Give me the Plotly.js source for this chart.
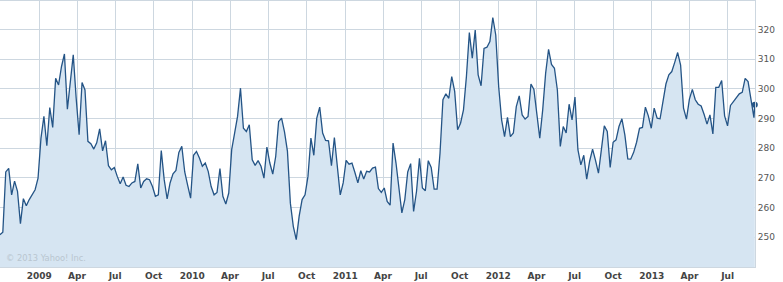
<!DOCTYPE html>
<html>
<head>
<meta charset="utf-8">
<script src="https://cdn.plot.ly/plotly-3.0.1.min.js"></script>
<style>html,body{margin:0;padding:0;background:#fff;}#chart{width:783px;height:282px;}</style>
</head>
<body>
<div id="chart"></div>
<script>
// Weekly closing values
var dates2008 = ['2008-09-29','2008-10-06','2008-10-13','2008-10-20','2008-10-27','2008-11-03','2008-11-10','2008-11-17','2008-11-24','2008-12-01','2008-12-08','2008-12-15','2008-12-22','2008-12-29'];
var close2008 = [250.9,251.7,272.0,273.2,264.3,268.9,265.5,254.6,263.0,260.6,262.7,264.3,266.0,269.9];

var dates2009 = ['2009-01-05','2009-01-12','2009-01-19','2009-01-26','2009-02-02','2009-02-09','2009-02-16','2009-02-23','2009-03-02','2009-03-09','2009-03-16','2009-03-23','2009-03-30','2009-04-06','2009-04-13','2009-04-20','2009-04-27','2009-05-04','2009-05-11','2009-05-18','2009-05-25','2009-06-01','2009-06-08','2009-06-15','2009-06-22','2009-06-29','2009-07-06','2009-07-13','2009-07-20','2009-07-27','2009-08-03','2009-08-10','2009-08-17','2009-08-24','2009-08-31','2009-09-07','2009-09-14','2009-09-21','2009-09-28','2009-10-05','2009-10-12','2009-10-19','2009-10-26','2009-11-02','2009-11-09','2009-11-16','2009-11-23','2009-11-30','2009-12-07','2009-12-14','2009-12-21','2009-12-28'];
var close2009 = [283.4,290.7,280.8,293.7,287.0,303.5,301.3,307.5,311.7,293.1,303.0,311.4,296.8,284.5,302.1,299.6,282.3,281.5,279.7,281.8,286.5,279.1,282.5,274.1,272.7,273.5,270.5,268.0,270.3,267.5,267.1,268.3,268.8,274.7,266.6,268.8,269.7,269.4,267.1,263.8,264.3,279.2,269.4,262.9,268.3,271.4,272.5,278.6,280.6,272.0,267.5,263.2];

var dates2010 = ['2010-01-04','2010-01-11','2010-01-18','2010-01-25','2010-02-01','2010-02-08','2010-02-15','2010-02-22','2010-03-01','2010-03-08','2010-03-15','2010-03-22','2010-03-29','2010-04-05','2010-04-12','2010-04-19','2010-04-26','2010-05-03','2010-05-10','2010-05-17','2010-05-24','2010-05-31','2010-06-07','2010-06-14','2010-06-21','2010-06-28','2010-07-05','2010-07-12','2010-07-19','2010-07-26','2010-08-02','2010-08-09','2010-08-16','2010-08-23','2010-08-30','2010-09-06','2010-09-13','2010-09-20','2010-09-27','2010-10-04','2010-10-11','2010-10-18','2010-10-25','2010-11-01','2010-11-08','2010-11-15','2010-11-22','2010-11-29','2010-12-06','2010-12-13','2010-12-20','2010-12-27'];
var close2010 = [277.6,278.9,276.7,273.9,275.0,272.2,267.1,264.3,265.1,273.1,263.8,261.2,264.9,279.5,285.1,290.7,300.2,286.7,285.6,287.9,276.1,274.2,275.8,273.9,269.9,280.4,275.0,271.3,277.2,289.0,290.1,285.5,279.0,261.5,253.7,249.2,257.1,262.7,264.3,270.5,283.4,277.6,290.1,293.8,285.1,282.6,282.5,274.1,283.6,272.7,264.3,268.3];

var dates2011 = ['2011-01-03','2011-01-10','2011-01-17','2011-01-24','2011-01-31','2011-02-07','2011-02-14','2011-02-21','2011-02-28','2011-03-07','2011-03-14','2011-03-21','2011-03-28','2011-04-04','2011-04-11','2011-04-18','2011-04-25','2011-05-02','2011-05-09','2011-05-16','2011-05-23','2011-05-30','2011-06-06','2011-06-13','2011-06-20','2011-06-27','2011-07-04','2011-07-11','2011-07-18','2011-07-25','2011-08-01','2011-08-08','2011-08-15','2011-08-22','2011-08-29','2011-09-05','2011-09-12','2011-09-19','2011-09-26','2011-10-03','2011-10-10','2011-10-17','2011-10-24','2011-10-31','2011-11-07','2011-11-14','2011-11-21','2011-11-28','2011-12-05','2011-12-12','2011-12-19','2011-12-26'];
var close2011 = [275.9,274.6,275.0,271.8,268.3,272.4,269.6,272.2,272.0,273.3,273.6,266.4,265.1,266.6,262.1,260.8,281.7,275.0,265.5,258.2,262.7,272.0,274.8,258.7,265.5,276.6,266.6,265.7,275.8,273.5,266.2,266.2,278.3,296.3,298.3,296.8,304.1,299.1,286.2,288.4,292.9,304.1,318.9,310.3,319.8,304.7,301.0,313.6,314.0,315.9,324.0,318.1];

var dates2012 = ['2012-01-02','2012-01-09','2012-01-16','2012-01-23','2012-01-30','2012-02-06','2012-02-13','2012-02-20','2012-02-27','2012-03-05','2012-03-12','2012-03-19','2012-03-26','2012-04-02','2012-04-09','2012-04-16','2012-04-23','2012-04-30','2012-05-07','2012-05-14','2012-05-21','2012-05-28','2012-06-04','2012-06-11','2012-06-18','2012-06-25','2012-07-02','2012-07-09','2012-07-16','2012-07-23','2012-07-30','2012-08-06','2012-08-13','2012-08-20','2012-08-27','2012-09-03','2012-09-10','2012-09-17','2012-09-24','2012-10-01','2012-10-08','2012-10-15','2012-10-22','2012-10-29','2012-11-05','2012-11-12','2012-11-19','2012-11-26','2012-12-03','2012-12-10','2012-12-17','2012-12-24','2012-12-31'];
var close2012 = [300.7,289.5,283.9,290.4,283.9,285.1,294.0,297.6,291.2,289.8,290.7,301.6,299.8,290.7,283.4,292.9,305.2,313.3,308.2,306.9,299.6,280.6,287.3,285.1,294.8,289.5,297.2,279.5,274.4,277.6,269.6,275.6,279.7,275.9,271.6,279.5,287.5,285.6,273.5,282.0,282.8,287.3,289.9,284.5,276.4,276.3,278.6,282.0,286.7,287.0,293.8,290.9,286.7];

var dates2013 = ['2013-01-07','2013-01-14','2013-01-21','2013-01-28','2013-02-04','2013-02-11','2013-02-18','2013-02-25','2013-03-04','2013-03-11','2013-03-18','2013-03-25','2013-04-01','2013-04-08','2013-04-15','2013-04-22','2013-04-29','2013-05-06','2013-05-13','2013-05-20','2013-05-27','2013-06-03','2013-06-10','2013-06-17','2013-06-24','2013-07-01','2013-07-08','2013-07-15','2013-07-22','2013-07-29','2013-08-05','2013-08-12','2013-08-19','2013-08-26','2013-09-02','2013-09-04'];
var close2013 = [293.5,290.1,289.9,296.3,301.6,304.7,305.8,308.9,312.2,308.0,293.5,289.8,296.5,299.8,296.3,294.8,294.2,291.4,288.1,291.2,284.8,300.5,300.5,302.8,290.9,287.5,294.4,295.7,297.2,298.3,298.8,303.5,302.4,296.3,290.3,294.6];

var tickDates = ['2009-01-01','2009-04-01','2009-07-01','2009-10-01','2010-01-01','2010-04-01','2010-07-01','2010-10-01','2011-01-01','2011-04-01','2011-07-01','2011-10-01','2012-01-01','2012-04-01','2012-07-01','2012-10-01','2013-01-01','2013-04-01','2013-07-01'];
var tickLabels = ['2009','Apr','Jul','Oct','2010','Apr','Jul','Oct','2011','Apr','Jul','Oct','2012','Apr','Jul','Oct','2013','Apr','Jul'];
var yTicks = [250,260,270,280,290,300,310,320];
var copyrightText = '\u00a9 2013 Yahoo! Inc.';

var dates = [].concat(dates2008, dates2009, dates2010, dates2011, dates2012, dates2013);
var closes = [].concat(close2008, close2009, close2010, close2011, close2012, close2013);

var lineColor = 'rgb(36,84,134)';
var gridColor = '#cdd7e0';

var traces = [
  {
    type: 'scatter', mode: 'lines', x: dates, y: closes,
    fill: 'tozeroy', fillcolor: 'rgb(214,229,242)',
    line: {color: lineColor, width: 1.3}, hoverinfo: 'skip'
  },
  {
    type: 'scatter', mode: 'markers',
    x: [dates[dates.length - 1]], y: [closes[closes.length - 1]],
    marker: {color: lineColor, size: 6}, hoverinfo: 'skip', cliponaxis: false
  }
];

var layout = {
  width: 783, height: 282,
  margin: {l: 0, r: 28, t: 1, b: 15, pad: 0},
  paper_bgcolor: '#ffffff', plot_bgcolor: '#ffffff',
  showlegend: false,
  xaxis: {
    type: 'date',
    range: ['2008-09-29 06:00', '2013-09-04 12:00'],
    tickmode: 'array', tickvals: tickDates, ticktext: tickLabels,
    showgrid: true, gridcolor: gridColor, gridwidth: 1,
    showline: true, linecolor: gridColor, linewidth: 1, mirror: true,
    ticks: '', zeroline: false,
    tickfont: {family: 'DejaVu Sans, Verdana, sans-serif', size: 9, color: '#444444', weight: 'bold'}
  },
  yaxis: {
    range: [240.0, 329.55], side: 'right',
    tickmode: 'array', tickvals: yTicks,
    showgrid: true, gridcolor: gridColor, gridwidth: 1,
    showline: true, linecolor: gridColor, linewidth: 1, mirror: true,
    ticks: '', zeroline: false,
    tickfont: {family: 'DejaVu Sans, Verdana, sans-serif', size: 9, color: '#555555'}
  },
  annotations: [{
    text: copyrightText, xref: 'paper', yref: 'paper', x: 0, y: 0,
    xanchor: 'left', yanchor: 'bottom', xshift: 4, yshift: 2, showarrow: false,
    font: {family: 'DejaVu Sans, Verdana, sans-serif', size: 8.3, color: '#b9c5d0'}
  }]
};

Plotly.newPlot('chart', traces, layout, {staticPlot: true, displayModeBar: false});
</script>
</body>
</html>
